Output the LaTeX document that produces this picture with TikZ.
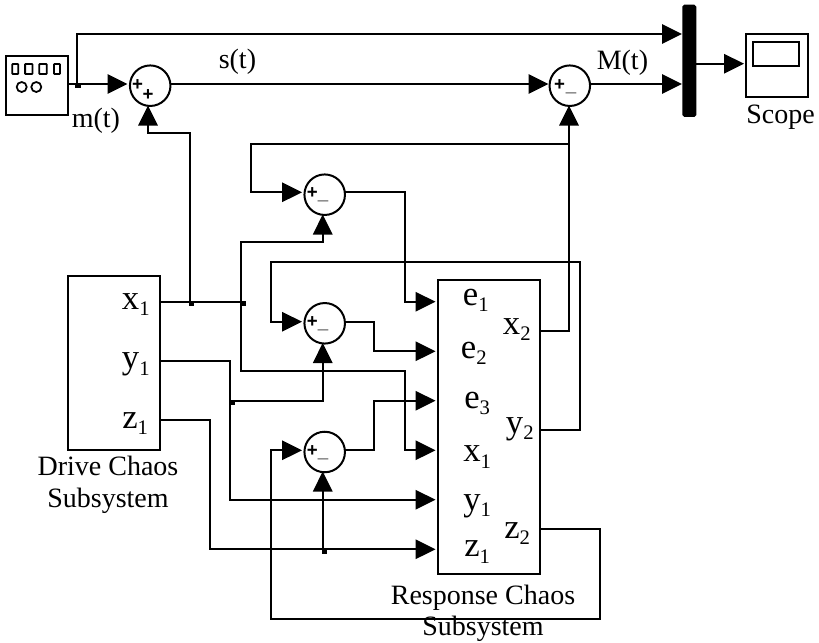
\documentclass[tikz,border=0pt]{standalone}
\usepackage{fontspec}
\setmainfont{Liberation Serif}
\setsansfont{Liberation Sans}
\usetikzlibrary{arrows.meta}
\newcommand{\subn}[1]{\raisebox{-0.2em}{\fontsize{15.5}{15.5}\selectfont #1}}
\tikzset{
  wire/.style={line width=1.5pt, line join=miter},
  sig/.style={wire, -{Triangle[length=15pt,width=14.5pt]}},
  blockbox/.style={draw, line width=1.5pt, inner sep=0pt, outer sep=0pt},
  summer/.style={draw, circle, line width=1.5pt, minimum size=30.4pt, inner sep=0pt, outer sep=0pt},
  lab/.style={anchor=base west, inner sep=0pt, font=\fontsize{21}{21}\selectfont},
  labc/.style={anchor=base, inner sep=0pt, font=\fontsize{21}{21}\selectfont},
  port/.style={anchor=base west, inner sep=0pt, font=\fontsize{26}{26}\selectfont},
  sign/.style={anchor=base, inner sep=0pt, font=\fontsize{14}{14}\selectfont\sffamily\bfseries},
  junc/.style={fill, inner sep=0pt, minimum size=4pt},
  mini/.style={draw, line width=1.4pt, inner sep=0pt, rounded corners=0.5pt},
  dial/.style={draw, circle, line width=1.3pt, inner sep=0pt, minimum size=7.5pt}
}
\begin{document}
\begin{tikzpicture}[x=0.75pt,y=-0.75pt]
\useasboundingbox (0,0) rectangle (819,643);
% blocks
\node[blockbox, minimum width=46.3pt, minimum height=44.7pt] (src) at (37.2,85.5) {};
\node[mini, minimum width=4.5pt, minimum height=7.5pt] (k1) at (15.3,69) {};
\node[mini, minimum width=5.6pt, minimum height=7.5pt] (k2) at (28.8,69) {};
\node[mini, minimum width=5.6pt, minimum height=7.5pt] (k3) at (43,69) {};
\node[mini, minimum width=4.5pt, minimum height=7.5pt] (k4) at (57,69) {};
\node[dial] (d1) at (21.7,87) {};
\node[dial] (d2) at (36.3,87) {};
\node[blockbox, fill=black, rounded corners=1pt, minimum width=9pt, minimum height=82.7pt] (mux) at (689.3,60.8) {};
\node[blockbox, minimum width=46.5pt, minimum height=47.7pt] (scope) at (776.7,65.5) {};
\node[blockbox, minimum width=34.5pt, minimum height=18pt] (screen) at (776.3,54) {};
\node[blockbox, minimum width=69.4pt, minimum height=130.5pt] (drive) at (114,362.7) {};
\node[blockbox, minimum width=76.7pt, minimum height=220.7pt] (resp) at (488.9,427.2) {};
% summers
\node[summer] (s1) at (150.2,85.7) {};
\node[summer] (s2) at (569.8,85.7) {};
\node[summer] (sa) at (324.7,194.7) {};
\node[summer] (sb) at (324.7,323.3) {};
\node[summer] (sc) at (324.7,452) {};
\node[sign] (p1a) at (137.6,90) {+};
\node[sign] (p1b) at (148,100.5) {+};
\node[sign] (p2a) at (559.5,90) {+};
\node[sign] (p2b) at (571,91.5) {\_};
\node[sign] (pa) at (312.3,198.5) {+};
\node[sign] (ma) at (323,199.5) {\_};
\node[sign] (pb) at (312.3,327.5) {+};
\node[sign] (mb) at (323,328.5) {\_};
\node[sign] (pc) at (312.3,456) {+};
\node[sign] (mc) at (323,457) {\_};
% ports
\coordinate (srcO) at (68,84);
\coordinate (muxA) at (682,34);
\coordinate (muxB) at (682,84);
\coordinate (muxO) at (695,63.7);
\coordinate (scopeI) at (744,63.7);
\coordinate (s1i) at (127.5,84);
\coordinate (s1o) at (171,84);
\coordinate (s1u) at (148,105.5);
\coordinate (s2i) at (548.5,84);
\coordinate (s2o) at (590.5,84);
\coordinate (s2u) at (569,105.5);
\coordinate (sai) at (302,192.3);
\coordinate (sao) at (345,192.3);
\coordinate (sau) at (322.7,214.5);
\coordinate (sbi) at (302,321.7);
\coordinate (sbo) at (345,321.7);
\coordinate (sbu) at (322.7,343);
\coordinate (sci) at (302,450.3);
\coordinate (sco) at (345,450.3);
\coordinate (scu) at (322.7,471.5);
\coordinate (dx) at (160.3,301.7);
\coordinate (dy) at (160.3,361);
\coordinate (dz) at (160.3,420.3);
\coordinate (re1) at (435.5,301.7);
\coordinate (re2) at (435.5,351.3);
\coordinate (re3) at (435.5,400.7);
\coordinate (rx) at (435.5,450.3);
\coordinate (ry) at (435.5,499.7);
\coordinate (rz) at (435.5,549.3);
\coordinate (ox) at (540,331.3);
\coordinate (oy) at (540,430);
\coordinate (oz) at (540,529.3);
% junctions
\node[junc] (j0) at (78,85.7) {};
\node[junc] (j1) at (191.3,303.3) {};
\node[junc] (j2) at (243.3,303.3) {};
\node[junc] (j3) at (232.7,402.7) {};
\node[junc] (j4) at (324.7,551.3) {};
% connectors
\draw[sig] (srcO) -- (s1i);
\draw[sig] (76.5,84) -- (76.5,34) -- (muxA);
\draw[sig] (s1o) -- (s2i);
\draw[sig] (s2o) -- (muxB);
\draw[sig] (muxO) -- (scopeI);
\draw[wire] (dx) -- (240.7,301.7);
\draw[sig] (189.5,301.7) -- (189.5,133) -- (148,133) -- (s1u);
\draw[sig] (240.7,301.7) -- (240.7,242.3) -- (322.7,242.3) -- (sau);
\draw[sig] (240.7,301.7) -- (240.7,371) -- (405,371) -- (405,450.3) -- (rx);
\draw[sig] (dy) -- (230.3,361) -- (230.3,499.7) -- (ry);
\draw[sig] (230.3,400.7) -- (322.7,400.7) -- (sbu);
\draw[sig] (dz) -- (210,420.3) -- (210,549.3) -- (rz);
\draw[sig] (322.7,549.3) -- (scu);
\draw[sig] (ox) -- (569,331.3) -- (s2u);
\draw[sig] (569,143.5) -- (250.5,143.5) -- (250.5,192.3) -- (sai);
\draw[sig] (oy) -- (580,430) -- (580,262.3) -- (271.3,262.3) -- (271.3,321.7) -- (sbi);
\draw[sig] (oz) -- (600,529.3) -- (600,618.7) -- (271.3,618.7) -- (271.3,450.3) -- (sci);
\draw[sig] (sao) -- (405,192.3) -- (405,301.7) -- (re1);
\draw[sig] (sbo) -- (374,321.7) -- (374,351.3) -- (re2);
\draw[sig] (sco) -- (374,450.3) -- (374,400.7) -- (re3);
% labels
\node[lab] (ls) at (218.5,68) {s(t)};
\node[lab] (lm) at (71.5,127) {m(t)};
\node[lab] (lM) at (596.5,69.5) {M(t)};
\node[lab] (lS) at (746,123) {Scope};
\node[port] (dl1) at (121.7,309) {x\subn{1}};
\node[port] (dl2) at (121.7,368.3) {y\subn{1}};
\node[port] (dl3) at (122,428) {z\subn{1}};
\node[labc] (dt1) at (108,475.7) {Drive Chaos};
\node[labc] (dt2) at (108,507) {Subsystem};
\node[port] (r1) at (462.7,305) {e\subn{1}};
\node[port] (r2) at (460.7,358) {e\subn{2}};
\node[port] (r3) at (464,408) {e\subn{3}};
\node[port] (r4) at (463,461.7) {x\subn{1}};
\node[port] (r5) at (463,510) {y\subn{1}};
\node[port] (r6) at (464,556.7) {z\subn{1}};
\node[port] (r7) at (502.7,334) {x\subn{2}};
\node[port] (r8) at (505.7,433) {y\subn{2}};
\node[port] (r9) at (504,538) {z\subn{2}};
\node[labc] (rt1) at (483,604) {Response Chaos};
\node[labc] (rt2) at (483,635) {Subsystem};
\end{tikzpicture}
\end{document}
